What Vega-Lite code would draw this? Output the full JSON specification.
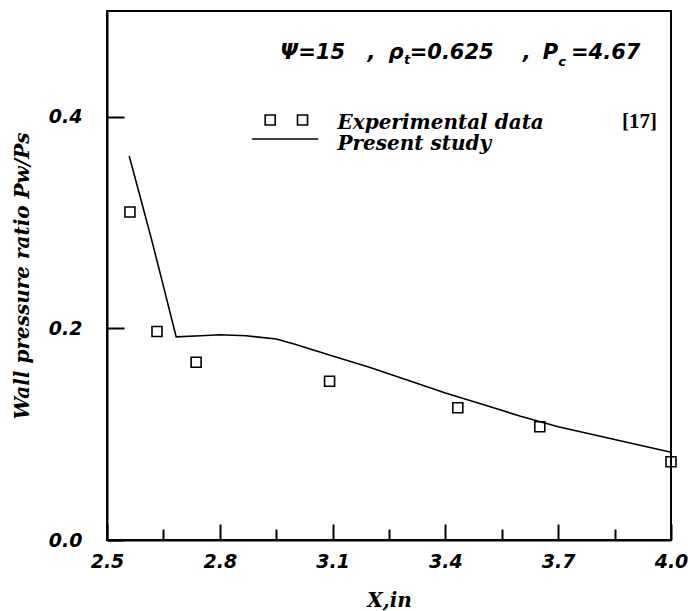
{
  "$schema": "https://vega.github.io/schema/vega-lite/v6.json",
  "width": 564,
  "height": 529,
  "autosize": {"type": "none"},
  "padding": {"left": 107, "top": 11, "right": 17, "bottom": 71},
  "background": "white",
  "config": {
    "view": {"stroke": "black", "strokeWidth": 2},
    "axis": {"grid": false, "domainColor": "black", "domainWidth": 2, "tickColor": "black", "tickWidth": 2, "labelColor": "black", "titleColor": "black"}
  },
  "datasets": {
    "model": [
      {"x": 2.559, "p": 0.363},
      {"x": 2.59, "p": 0.322},
      {"x": 2.62, "p": 0.282},
      {"x": 2.65, "p": 0.240},
      {"x": 2.684, "p": 0.192},
      {"x": 2.75, "p": 0.193},
      {"x": 2.8, "p": 0.194},
      {"x": 2.87, "p": 0.193},
      {"x": 2.95, "p": 0.190},
      {"x": 3.0, "p": 0.185},
      {"x": 3.1, "p": 0.174},
      {"x": 3.2, "p": 0.163},
      {"x": 3.3, "p": 0.151},
      {"x": 3.4, "p": 0.139},
      {"x": 3.5, "p": 0.128},
      {"x": 3.6, "p": 0.117},
      {"x": 3.7, "p": 0.107},
      {"x": 3.8, "p": 0.099},
      {"x": 3.9, "p": 0.091},
      {"x": 4.0, "p": 0.083}
    ],
    "exp": [
      {"x": 2.561, "p": 0.310},
      {"x": 2.633, "p": 0.197},
      {"x": 2.737, "p": 0.168},
      {"x": 3.092, "p": 0.150},
      {"x": 3.433, "p": 0.125},
      {"x": 3.651, "p": 0.107},
      {"x": 4.0, "p": 0.074}
    ],
    "legendSq": [
      {"x": 2.934, "p": 0.397},
      {"x": 3.020, "p": 0.397}
    ],
    "legendLine": [
      {"x": 2.886, "p": 0.379},
      {"x": 3.062, "p": 0.379}
    ],
    "legendText": [
      {"x": 3.113, "p": 0.3887, "t": "Experimental data"},
      {"x": 3.113, "p": 0.3685, "t": "Present study"}
    ],
    "ref": [
      {"x": 3.870, "p": 0.389, "t": "[17]"}
    ],
    "annot": [
      {"x": 2.961, "p": 0.4547, "t": "Ψ=15"},
      {"x": 3.193, "p": 0.4547, "t": ","},
      {"x": 3.249, "p": 0.4547, "t": "ρ"},
      {"x": 3.305, "p": 0.4547, "t": "=0.625"},
      {"x": 3.606, "p": 0.4547, "t": ","},
      {"x": 3.659, "p": 0.4547, "t": "P"},
      {"x": 3.734, "p": 0.4547, "t": "=4.67"}
    ],
    "annotSub": [
      {"x": 3.290, "p": 0.450, "t": "t"},
      {"x": 3.700, "p": 0.448, "t": "c"}
    ]
  },
  "resolve": {"axis": {"x": "independent"}},
  "layer": [
    {
      "data": {"name": "model"},
      "mark": {"type": "line", "color": "black", "strokeWidth": 1.6, "clip": false},
      "encoding": {
        "x": {"field": "x", "type": "quantitative", "scale": {"domain": [2.5, 4.0], "nice": false, "zero": false},
          "axis": {"orient": "bottom", "values": [2.5, 2.8, 3.1, 3.4, 3.7, 4.0], "format": ".1f", "tickSize": -16,
            "labelFont": "DejaVu Sans", "labelFontSize": 19, "labelFontStyle": "italic", "labelFontWeight": "bold", "labelPadding": 28, "labelFlush": false,
            "title": "X,in", "titleFont": "DejaVu Serif", "titleFontSize": 20, "titleFontStyle": "italic", "titleFontWeight": "bold", "titlePadding": 19}},
        "y": {"field": "p", "type": "quantitative", "scale": {"domain": [0, 0.5], "nice": false},
          "axis": {"values": [0, 0.2, 0.4], "format": ".1f", "tickSize": -17,
            "labelFont": "DejaVu Sans", "labelFontSize": 19, "labelFontStyle": "italic", "labelFontWeight": "bold", "labelPadding": 42,
            "title": "Wall pressure ratio  Pw/Ps", "titleFont": "DejaVu Serif", "titleFontSize": 20, "titleFontStyle": "italic", "titleFontWeight": "bold", "titlePadding": 16}}
      }
    },
    {
      "data": {"name": "exp"},
      "mark": {"type": "point", "shape": "square", "size": 100, "filled": false, "color": "black", "strokeWidth": 1.6, "opacity": 1, "clip": false},
      "encoding": {
        "x": {"field": "x", "type": "quantitative",
          "axis": {"orient": "bottom", "values": [2.65, 2.95, 3.25, 3.55, 3.85], "tickSize": -11, "labels": false, "domain": false, "title": null}},
        "y": {"field": "p", "type": "quantitative"}
      }
    },
    {
      "data": {"name": "legendSq"},
      "mark": {"type": "point", "shape": "square", "size": 100, "filled": false, "color": "black", "strokeWidth": 1.6, "opacity": 1},
      "encoding": {
        "x": {"field": "x", "type": "quantitative", "axis": null},
        "y": {"field": "p", "type": "quantitative"}
      }
    },
    {
      "data": {"name": "legendLine"},
      "mark": {"type": "line", "color": "black", "strokeWidth": 1.6},
      "encoding": {
        "x": {"field": "x", "type": "quantitative", "axis": null},
        "y": {"field": "p", "type": "quantitative"}
      }
    },
    {
      "data": {"name": "legendText"},
      "mark": {"type": "text", "align": "left", "baseline": "alphabetic", "font": "DejaVu Serif", "fontSize": 20, "fontStyle": "italic", "fontWeight": "bold", "color": "black"},
      "encoding": {
        "x": {"field": "x", "type": "quantitative", "axis": null},
        "y": {"field": "p", "type": "quantitative"},
        "text": {"field": "t"}
      }
    },
    {
      "data": {"name": "ref"},
      "mark": {"type": "text", "align": "left", "baseline": "alphabetic", "font": "Liberation Serif", "fontSize": 21, "fontWeight": "bold", "color": "black"},
      "encoding": {
        "x": {"field": "x", "type": "quantitative", "axis": null},
        "y": {"field": "p", "type": "quantitative"},
        "text": {"field": "t"}
      }
    },
    {
      "data": {"name": "annot"},
      "mark": {"type": "text", "align": "left", "baseline": "alphabetic", "font": "DejaVu Sans", "fontSize": 21, "fontStyle": "italic", "fontWeight": "bold", "color": "black"},
      "encoding": {
        "x": {"field": "x", "type": "quantitative", "axis": null},
        "y": {"field": "p", "type": "quantitative"},
        "text": {"field": "t"}
      }
    },
    {
      "data": {"name": "annotSub"},
      "mark": {"type": "text", "align": "left", "baseline": "alphabetic", "font": "DejaVu Sans", "fontSize": 13, "fontStyle": "italic", "fontWeight": "bold", "color": "black"},
      "encoding": {
        "x": {"field": "x", "type": "quantitative", "axis": null},
        "y": {"field": "p", "type": "quantitative"},
        "text": {"field": "t"}
      }
    }
  ]
}
